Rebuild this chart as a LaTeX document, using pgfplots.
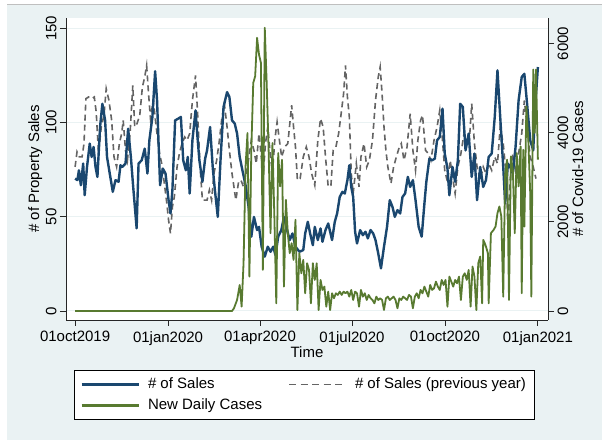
\documentclass[border=0pt]{standalone}
\usepackage{fontspec}
\setmainfont{Liberation Sans}
\usepackage{pgfplots}
\pgfplotsset{compat=1.18}
\usepackage{pgfplotstable}
\definecolor{bgc}{RGB}{234,242,243}
\definecolor{navy}{RGB}{26,71,111}
\definecolor{fgreen}{RGB}{88,122,48}
\definecolor{dgray}{RGB}{100,100,100}

\pgfplotstableread{
day val
0 70.2
2.3 69.4
3.8 74.6
5.7 66.7
8.0 78.2
9.5 61.4
11.8 76.4
14.5 88.8
16.4 81.7
18.3 87.0
20.2 76.4
22.1 71.1
24.7 97.6
27.0 109.9
29.7 101.1
31.6 81.7
34.3 72.9
37.3 63.2
40.0 69.4
43.0 68.5
44.9 77.3
46.8 76.4
49.9 78.2
52.5 96.7
55.2 81.7
57.5 65.8
60.9 43.8
62.8 78.2
65.9 79.9
68.9 86.1
71.6 72.9
73.5 90.5
76.5 102.9
79.2 127.2
81.1 111.7
84.1 66.7
86.8 75.5
89.5 72.9
92.5 58.8
94.4 51.7
96.3 64.1
99.0 101.1
102.0 102.0
104.7 102.9
107.0 79.9
109.6 74.6
111.5 81.7
113.4 62.3
116.1 90.5
119.2 106.4
121.1 92.3
123.0 79.9
126.0 68.5
128.7 80.8
130.6 85.2
133.6 97.6
136.3 75.5
138.2 64.9
141.2 49.9
143.9 79.9
146.9 108.2
150.4 116.1
152.7 113.5
155.3 101.1
158.0 99.4
160.3 94.1
162.9 81.7
165.6 74.6
168.7 66.7
171.7 55.2
174.4 39.4
177.0 49.9
180.1 42.9
182.0 44.6
184.6 34.1
187.7 28.8
190.7 34.1
193.4 31.4
196.1 34.1
198.3 29.6
201.0 39.4
204.1 42.9
206.7 49.9
209.8 42.9
212.4 37.6
215.1 41.1
218.1 34.1
222.0 31.4
225.8 32.3
227.7 41.1
230.3 47.3
232.6 41.1
235.3 34.9
237.2 44.6
240.2 37.6
242.9 43.8
244.8 36.7
247.8 42.9
250.5 46.4
252.4 42.0
254.3 37.6
257.0 47.3
259.3 51.7
261.9 60.5
264.6 63.2
266.9 62.3
269.5 69.4
271.4 77.3
273.3 65.8
275.2 60.5
277.1 42.0
279.0 35.8
282.1 42.9
284.8 40.2
287.4 42.0
289.7 38.5
292.4 42.9
295.0 41.1
297.3 37.6
300.0 30.5
302.7 22.6
305.7 34.1
308.7 44.6
311.4 58.8
314.1 55.2
316.4 49.9
319.0 53.5
321.7 51.7
324.0 60.5
326.6 62.3
329.3 71.1
331.6 65.8
334.3 69.4
336.9 58.8
340.0 44.6
343.0 39.4
345.7 57.0
347.6 68.5
350.6 80.8
353.3 79.9
356.0 80.8
358.2 90.5
360.9 92.3
363.6 107.3
365.8 83.5
368.5 75.5
370.4 61.4
373.5 76.4
376.1 68.5
378.8 79.9
381.1 109.9
383.7 108.2
386.4 85.2
389.5 94.1
392.5 71.1
395.2 83.5
397.8 58.8
400.9 76.4
403.9 65.8
406.6 69.4
409.3 81.7
412.3 83.5
415.3 102.9
418.0 127.6
420.7 102.9
423.7 76.4
425.6 57.0
428.3 78.2
430.6 76.4
433.2 72.9
435.9 87.0
438.9 111.7
442.0 124.1
444.6 125.8
447.3 109.9
450.4 90.5
453.4 85.2
455.3 108.2
458.0 129.4
}\sales

\pgfplotstableread{
day val
0 76.4
1.9 84.4
4.2 81.7
6.9 81.7
8.8 88.8
10.7 112.6
13.3 113.5
16.4 112.6
19.0 113.5
20.9 105.5
23.2 83.5
25.9 97.6
28.6 103.8
30.8 117.9
33.5 111.7
36.2 101.1
38.5 81.7
41.1 76.4
43.8 88.8
46.1 94.1
47.6 101.1
49.9 85.2
51.8 79.9
54.4 94.1
57.1 119.6
59.0 97.6
61.3 99.4
64.0 103.8
66.6 118.8
68.9 124.1
70.8 130.2
72.7 115.2
74.6 102.0
77.3 111.7
80.3 97.6
83.0 85.2
85.7 78.2
87.9 69.4
90.6 57.9
92.5 48.2
94.4 41.1
96.3 55.2
98.2 60.5
100.9 76.4
103.2 83.5
105.8 88.8
108.5 92.3
110.8 90.5
113.4 94.1
116.1 111.7
119.2 124.9
121.1 106.4
123.7 76.4
126.0 58.8
128.7 58.8
130.6 58.8
132.9 64.1
135.1 58.8
137.4 72.9
140.1 79.9
142.8 90.5
145.0 101.1
147.7 109.9
150.4 97.6
152.7 85.2
155.3 72.9
157.2 65.8
159.1 58.8
161.8 68.5
164.1 69.4
166.7 65.8
170.6 76.4
174.4 90.5
177.0 85.2
179.3 78.2
182.0 94.1
183.9 83.5
186.2 72.9
188.4 88.8
190.7 97.6
193.4 81.7
195.3 72.9
197.6 90.5
199.9 100.2
202.2 90.5
204.4 81.7
207.5 87.0
210.5 88.8
212.8 101.1
214.3 109.1
216.2 97.6
218.1 87.0
220.0 69.4
222.7 70.2
225.8 81.7
228.8 87.0
231.5 81.7
234.1 72.9
237.2 66.7
240.2 90.5
242.9 102.0
245.5 97.6
247.8 81.7
250.5 65.8
253.2 66.7
255.4 85.2
258.1 87.0
260.8 94.1
263.1 103.8
265.7 115.2
267.6 130.2
269.5 113.5
271.4 102.9
273.3 72.9
275.2 62.3
278.3 78.2
281.0 65.8
282.9 81.7
285.9 88.8
288.6 76.4
291.2 79.9
294.3 90.5
297.3 111.7
300.0 124.1
301.9 129.4
303.8 115.2
305.7 97.6
307.6 85.2
309.5 76.4
312.6 67.6
315.2 76.4
317.9 81.7
320.9 87.0
322.8 88.8
325.5 79.9
328.5 87.0
331.6 104.6
334.3 85.2
336.9 74.6
339.2 90.5
341.9 101.1
343.8 103.8
346.8 85.2
349.5 83.5
352.1 79.9
355.2 90.5
358.2 97.6
360.9 106.4
363.6 90.5
365.8 74.6
368.5 68.5
371.2 79.9
373.5 71.1
376.1 62.3
378.8 76.4
381.8 83.5
384.9 94.1
387.6 87.0
390.2 90.5
392.5 109.9
395.2 88.8
397.8 76.4
400.9 69.4
403.9 76.4
406.6 72.9
409.3 78.2
412.3 74.6
415.3 81.7
418.0 78.2
420.7 97.6
423.7 88.8
426.8 71.1
428.3 44.6
430.6 69.4
433.2 83.5
435.9 74.6
438.9 83.5
442.0 94.1
444.6 111.7
447.3 97.6
450.4 81.7
453.4 76.4
456.1 70.2
}\prevyear

\pgfplotstableread{
day val
0 0
155.3 0
157.2 60
160.3 247
162.9 584
164.8 97
166.7 1071
168.7 3243
170.6 3992
172.5 771
174.4 3618
176.3 5116
178.2 5265
180.1 6127
182.0 5752
183.9 5565
185.8 921
187.7 6352
189.6 5116
191.5 3618
193.4 1745
195.3 3767
197.2 2120
199.1 172
201.0 3543
202.9 2794
204.8 3393
206.7 547
208.6 2494
210.5 1745
212.4 1296
214.3 1520
216.2 1146
218.1 2045
220.0 22
221.9 1296
223.9 846
225.8 1146
227.7 397
229.6 1071
231.5 921
233.4 172
235.3 1071
237.2 697
239.1 1071
241.0 22
242.9 697
244.8 472
246.7 547
248.6 97
250.5 434
252.4 22
254.3 397
256.2 285
258.1 397
260.0 360
261.9 434
263.8 360
265.7 434
267.6 397
269.5 434
271.4 322
273.3 472
275.2 247
277.1 434
279.0 397
281.0 97
282.9 472
284.8 322
286.7 397
288.6 247
290.5 360
292.4 285
294.3 247
296.2 172
298.1 322
300.0 247
301.9 285
303.8 247
305.7 22
307.6 285
309.5 322
311.4 247
313.3 285
315.2 322
317.1 247
319.0 60
320.9 285
322.8 247
324.7 322
326.6 285
328.5 247
330.4 360
332.4 322
334.3 60
336.2 322
338.1 397
340.0 285
341.9 472
343.8 397
345.7 547
347.6 434
349.5 322
351.4 584
353.3 472
355.2 509
357.1 659
359.0 547
360.9 472
362.8 697
364.7 584
366.6 697
368.5 97
370.4 771
372.3 659
374.2 547
376.1 697
378.0 622
379.9 771
381.8 247
383.7 771
385.6 846
387.6 697
389.5 921
391.4 97
393.3 996
395.2 771
397.1 22
399.0 1071
400.9 1221
402.8 172
403.9 1595
405.4 1520
406.6 1446
408.5 1296
409.3 172
411.5 1745
414.2 1820
416.1 1895
418.0 2195
419.9 2344
421.8 2120
423.7 322
425.6 3093
427.5 3393
429.4 247
431.3 3468
433.2 3168
435.1 1745
437.0 3543
438.9 2794
440.9 3693
442.0 397
443.5 3618
444.6 1895
446.6 4591
448.5 3842
450.4 2644
451.5 322
453.4 5415
454.9 3992
456.1 5415
458.0 3393
}\cases

\begin{document}
\begin{tikzpicture}
\useasboundingbox (0,0) rectangle (602bp,440bp);
\fill[white] (0,0) rectangle (602bp,440bp);
\fill[bgc] (7bp,0) rectangle (602bp,436bp);
\draw[black!25, line width=0.6bp] (7bp,436bp) -- (602bp,436bp);
\pgfplotsset{
  every axis/.append style={
    at={(66bp,120bp)}, anchor=south west, scale only axis,
    width=482bp, height=302bp, xmin=-9, xmax=468,
    axis line style={-, line width=0.8bp, black!85},
    tick style={line width=0.8bp, black!85},
    tick align=outside, major tick length=6bp,
    tick label style={font=\fontsize{15bp}{18bp}\selectfont},
    label style={font=\fontsize{15bp}{18bp}\selectfont},
  }
}
\begin{axis}[
  ymin=-4.8, ymax=155.4,
  axis x line*=bottom, axis y line*=left,
  axis background/.style={fill=white},
  xtick={0,92,183,274,366,458},
  xticklabels={01oct2019,01jan2020,01apr2020,01jul2020,01oct2020,01jan2021},
  xticklabel style={yshift=-2bp},
  ytick={0,50,100,150}, yticklabels={0,50,100,150},
  yticklabel style={rotate=90, anchor=south},
  ymajorgrids, grid style={bgc, line width=1bp},
  xlabel={Time},
  xlabel style={at={(axis description cs:0.5,-0.106)}, anchor=center},
  ylabel={\# of Property Sales},
  ylabel style={at={(axis description cs:-0.064,0.5)}, anchor=center},
  legend columns=2, legend cell align=left,
  legend image code/.code={\draw[#1] (0bp,0bp) -- (57bp,0bp);},
  legend style={at={(axis description cs:0.0166,-0.1656)}, anchor=north west,
    draw=black, line width=0.8bp, fill=white,
    font=\fontsize{15bp}{18bp}\selectfont,
    inner xsep=6bp, inner ysep=5bp, row sep=3bp,
    cells={anchor=west},
    nodes={inner sep=2bp, text height=11bp, text depth=3bp},
    /tikz/every odd column/.append style={column sep=6bp},
    /tikz/every even column/.append style={column sep=24bp}},
]
\addlegendimage{navy, line width=2.6bp}
\addlegendentry{\# of Sales}
\addlegendimage{dgray, line width=1.8bp, dash pattern=on 7bp off 4.5bp}
\addlegendentry{\# of Sales (previous year)}
\addlegendimage{fgreen, line width=2.2bp}
\addlegendentry{New Daily Cases}
\addplot[dgray, line width=1.6bp, dash pattern=on 6bp off 4bp, forget plot] table[x=day, y=val] {\prevyear};
\addplot[navy, line width=2.4bp, line join=round, forget plot] table[x=day, y=val] {\sales};
\end{axis}
\begin{axis}[
  ymin=-202, ymax=6572,
  axis x line=none, axis y line*=right,
  ytick={0,2000,4000,6000}, yticklabels={0,2000,4000,6000},
  yticklabel style={rotate=90, anchor=north},
  ylabel={\# of Covid-19 Cases},
  ylabel style={at={(axis description cs:1.062,0.5)}, anchor=center},
]
\addplot[fgreen, line width=1.8bp, line join=round] table[x=day, y=val] {\cases};
\end{axis}
\end{tikzpicture}
\end{document}
